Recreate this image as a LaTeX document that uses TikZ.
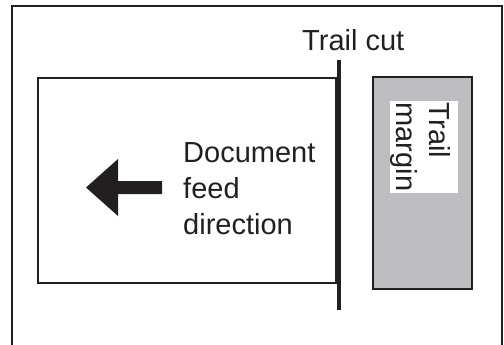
\documentclass[tikz,border=0pt]{standalone}
\usepackage{fontspec}
\setmainfont{Liberation Sans}
\usepackage{xcolor}

\definecolor{margingray}{RGB}{188,189,192}
\definecolor{inkblack}{RGB}{35,31,32}

\begin{document}
\begin{tikzpicture}[x=1pt, y=-1pt,
  frame/.style     = {draw=inkblack, line width=1.5pt},
  sheet/.style     = {draw=inkblack, line width=2pt},
  marginbox/.style = {draw=inkblack, line width=2.5pt, fill=margingray},
  cutline/.style   = {draw=inkblack, line width=4.5pt},
  lbl/.style       = {font=\fontsize{29}{36}\selectfont, text=inkblack, inner sep=0pt},
]
\useasboundingbox (0,0) rectangle (504,345);

% ── Outer frame (open at the bottom) ─────────────────────────────────────────
\draw[frame] (12,345) -- (12,6) -- (502,6) -- (502,345);

% ── Document sheet with feed arrow ───────────────────────────────────────────
\draw[sheet] (38,78) rectangle (336,283);
\fill[inkblack] (86,187.5) -- (118,159) -- (118,181) -- (162,181)
    -- (162,194) -- (118,194) -- (118,216) -- cycle;
\node[lbl, align=left, anchor=north west] (feed) at (183,142)
    {Document\\feed\\direction};

% ── Trail cut ────────────────────────────────────────────────────────────────
\coordinate (cuttop) at (339,60);
\coordinate (cutbot) at (339,310);
\draw[cutline] (cuttop) -- (cutbot);
\node[lbl, anchor=base west] (cut) at (302,51) {Trail cut};

% ── Trail margin strip ───────────────────────────────────────────────────────
\draw[marginbox] (373,77) rectangle (472,289);
\node[lbl, font=\fontsize{29}{33}\selectfont, fill=white, align=left, rotate=-90,
      anchor=north west, inner xsep=1.5pt, inner ysep=1pt] (marg) at (458,101)
    {\rule{0pt}{27pt}Trail\\margin};
\end{tikzpicture}
\end{document}
